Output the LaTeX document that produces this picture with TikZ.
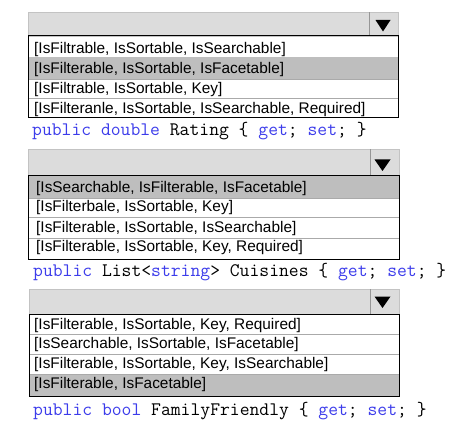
\documentclass[tikz,border=0pt]{standalone}
\usepackage{fontspec}
\newfontfamily\listfont{Liberation Sans}
\definecolor{hdrgray}{RGB}{220,220,220}
\definecolor{hdrborder}{RGB}{195,195,195}
\definecolor{sepgray}{RGB}{150,150,150}
\definecolor{hlgray}{RGB}{190,190,190}
\definecolor{rowline}{RGB}{170,170,170}
\definecolor{kw}{RGB}{60,60,235}
\begin{document}
\begin{tikzpicture}[x=1pt,y=-1pt,
  hdr/.style={fill=hdrgray,draw=hdrborder,line width=0.8pt},
  listbox/.style={draw=black,line width=1pt},
  hlrow/.style={fill=hlgray},
  rowsep/.style={draw=rowline,line width=0.8pt},
  arrowsep/.style={draw=sepgray,line width=0.8pt},
  opt/.style={font=\listfont\fontsize{15.4}{18}\selectfont,anchor=base west,inner sep=0pt},
  code/.style={font=\ttfamily\fontsize{19.1}{21}\selectfont,anchor=base west,inner sep=0pt}]
\useasboundingbox (0,0) rectangle (450,422);
\fill[white] (0,0) rectangle (450,422);

% ---------- Panel 1 ----------
\draw[hdr] (28,12) rectangle (398,36);
\draw[arrowsep] (369,12.5) -- (369,35.5);
\fill (375.5,20) -- (390.5,20) -- (383,31.5) -- cycle;
\fill[hlrow] (28,57.5) rectangle (398,79);
\draw[rowsep] (28,79) -- (398,79);
\draw[rowsep] (28,98) -- (398,98);
\draw[listbox] (28,36) rectangle (398,118);
\node[opt] (a1) at (34,54) {[IsFiltrable, IsSortable, IsSearchable]};
\node[opt] (a2) at (34,73.5) {[IsFilterable, IsSortable, IsFacetable]};
\node[opt] (a3) at (34,94) {[IsFiltrable, IsSortable, Key]};
\node[opt] (a4) at (34,113.5) {[IsFilteranle, IsSortable, IsSearchable, Required]};
\node[code] (c1) at (32,136) {\textcolor{kw}{public double} Rating \{ \textcolor{kw}{get}; \textcolor{kw}{set}; \}};

% ---------- Panel 2 ----------
\draw[hdr] (28,149) rectangle (399,176);
\draw[arrowsep] (370,149.5) -- (370,175.5);
\fill (374.5,159.5) -- (390.5,159.5) -- (382.5,171) -- cycle;
\fill[hlrow] (28,176) rectangle (399,198.3);
\draw[rowsep] (28,198.3) -- (399,198.3);
\draw[rowsep] (28,217.7) -- (399,217.7);
\draw[rowsep] (28,238) -- (399,238);
\draw[listbox] (28,176) rectangle (399,259.3);
\node[opt] (b1) at (36,192.7) {[IsSearchable, IsFilterable, IsFacetable]};
\node[opt] (b2) at (36,211.7) {[IsFilterbale, IsSortable, Key]};
\node[opt] (b3) at (36,232.3) {[IsFilterable, IsSortable, IsSearchable]};
\node[opt] (b4) at (36,251.7) {[IsFilterable, IsSortable, Key, Required]};
\node[code] (c2) at (33,276.7) {\textcolor{kw}{public} List<\textcolor{kw}{string}> Cuisines \{ \textcolor{kw}{get}; \textcolor{kw}{set}; \}};

% ---------- Panel 3 ----------
\draw[hdr] (29,289) rectangle (399,314);
\draw[arrowsep] (370,289.5) -- (370,313.5);
\fill (374.5,296.5) -- (390.5,296.5) -- (382.5,308) -- cycle;
\fill[hlrow] (29,374.7) rectangle (399,396);
\draw[rowsep] (29,334.7) -- (399,334.7);
\draw[rowsep] (29,354.7) -- (399,354.7);
\draw[rowsep] (29,374.7) -- (399,374.7);
\draw[listbox] (29,314) rectangle (399,396);
\node[opt] (d1) at (34,329.3) {[IsFilterable, IsSortable, Key, Required]};
\node[opt] (d2) at (34,348.7) {[IsSearchable, IsSortable, IsFacetable]};
\node[opt] (d3) at (34,368.7) {[IsFilterable, IsSortable, Key, IsSearchable]};
\node[opt] (d4) at (34,388) {[IsFilterable, IsFacetable]};
\node[code] (c3) at (33,415.3) {\textcolor{kw}{public bool} FamilyFriendly \{ \textcolor{kw}{get}; \textcolor{kw}{set}; \}};
\end{tikzpicture}
\end{document}
